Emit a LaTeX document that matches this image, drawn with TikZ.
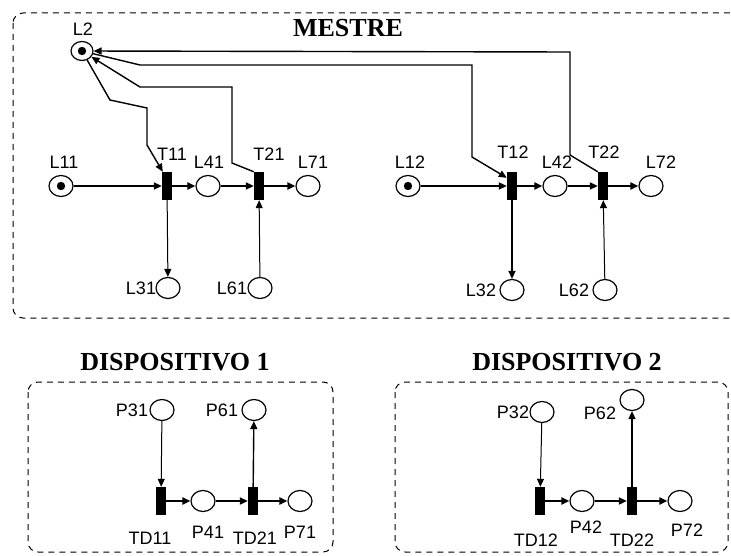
\documentclass[tikz,border=0pt]{standalone}
\usepackage{fontspec}
\setmainfont{Liberation Sans}
\newfontfamily\titlefont{Liberation Serif}
\usetikzlibrary{arrows.meta, shapes.geometric}

\tikzset{
  place/.style={ellipse, draw, line width=1.2pt, minimum width=24pt, minimum height=21pt, inner sep=0pt},
  marked/.style={place, path picture={\fill (path picture bounding box.center) circle (4.2pt);}},
  trans/.style={rectangle, fill=black, minimum width=10pt, minimum height=28pt, inner sep=0pt},
  lbl/.style={font=\fontsize{18}{20}\selectfont, inner sep=0pt},
  titulo/.style={font=\titlefont\bfseries\fontsize{26}{28}\selectfont, inner sep=0pt},
  caixa/.style={dash pattern=on 6pt off 5pt, line width=1pt, rounded corners=10pt},
  arco/.style={->, line width=2pt},
  fino/.style={->, line width=1pt},
  longo/.style={->, line width=1.4pt},
}

\begin{document}
\begin{tikzpicture}[x=1pt, y=-1pt, >={Triangle[length=8pt, width=7pt]}]
    \clip (0,0) rectangle (731,556);

    % --- Caixas tracejadas ---
    \draw[caixa] (13,13) rectangle (760,318);
    \draw[caixa] (28,382) rectangle (333,552);
    \draw[caixa] (395,382) rectangle (728,552);

    \node[titulo] (mestre) at (348,28) {MESTRE};
    \node[titulo] (disp1) at (175,362) {DISPOSITIVO 1};
    \node[titulo] (disp2) at (567,362) {DISPOSITIVO 2};

    % --- Mestre: lugares e transicoes ---
    \node[marked, minimum width=22pt, minimum height=19pt] (L2) at (82,51) {};
    \node[marked] (L11) at (61,186) {};
    \node[trans] (T11) at (167,186) {};
    \node[place] (L41) at (208,186) {};
    \node[trans] (T21) at (259,186) {};
    \node[place] (L71) at (308,186) {};
    \node[place] (L31) at (168,288) {};
    \node[place] (L61) at (260,288) {};

    \node[marked] (L12) at (408,186) {};
    \node[trans] (T12) at (512,186) {};
    \node[place] (L42) at (555,186) {};
    \node[trans] (T22) at (603,186) {};
    \node[place] (L72) at (651,186) {};
    \node[place] (L32) at (512,290) {};
    \node[place] (L62) at (605,290) {};

    % rotulos
    \node[lbl] (lL2) at (83,29) {L2};
    \node[lbl] (lL11) at (64,162) {L11};
    \node[lbl] (lT11) at (172,154) {T11};
    \node[lbl] (lL41) at (209,162) {L41};
    \node[lbl] (lT21) at (269,154) {T21};
    \node[lbl] (lL71) at (313,162) {L71};
    \node[lbl] (lL31) at (141,288) {L31};
    \node[lbl] (lL61) at (232,288) {L61};
    \node[lbl] (lL12) at (410,162) {L12};
    \node[lbl] (lT12) at (513,152) {T12};
    \node[lbl] (lL42) at (557,162) {L42};
    \node[lbl] (lT22) at (604,152) {T22};
    \node[lbl] (lL72) at (661,162) {L72};
    \node[lbl] (lL32) at (481,290) {L32};
    \node[lbl] (lL62) at (574,290) {L62};

    % --- Mestre: arcos ---
    \draw[arco] (L11) -- (T11);
    \draw[arco] (T11) -- (L41);
    \draw[arco] (L41) -- (T21);
    \draw[arco] (T21) -- (L71);
    \draw[fino] (T11) -- (L31);
    \draw[fino] (L61) -- (T21);

    \draw[arco] (L12) -- (T12);
    \draw[arco] (T12) -- (L42);
    \draw[arco] (L42) -- (T22);
    \draw[arco] (T22) -- (L72);
    \draw[longo] (T12) -- (L32);
    \draw[fino] (L62) -- (T22);

    % exclusao mutua via L2
    \draw[longo] (L2) -- (110,100) -- (147,108) -- (147,145) -- ([xshift=1pt]T11.north west);
    \draw[longo] (L2) -- (140,65) -- (472,65) -- (472,157) -- ([yshift=-6pt]T12.north west);
    \draw[longo] (T21.north west) -- (232,163) -- (232,87) -- (140,87) -- (L2);
    \draw[longo] (T22.north west) -- (570,155) -- (570,52) -- (L2);

    % --- Dispositivo 1 ---
    \node[place] (P31) at (162,410) {};
    \node[place] (P61) at (254,410) {};
    \node[trans] (TD11) at (161,501) {};
    \node[place] (P41) at (203,501) {};
    \node[trans] (TD21) at (253,501) {};
    \node[place] (P71) at (300,501) {};

    \node[lbl] (lP31) at (132,410) {P31};
    \node[lbl] (lP61) at (222,410) {P61};
    \node[lbl] (lTD11) at (150,538) {TD11};
    \node[lbl] (lP41) at (208,532) {P41};
    \node[lbl] (lTD21) at (255,538) {TD21};
    \node[lbl] (lP71) at (300,532) {P71};

    \draw[fino] (P31) -- (TD11);
    \draw[arco] (TD11) -- (P41);
    \draw[arco] (P41) -- (TD21);
    \draw[arco] (TD21) -- (P71);
    \draw[longo] (TD21) -- (P61);

    % --- Dispositivo 2 ---
    \node[place] (P32) at (542,412) {};
    \node[place] (P62) at (632,400) {};
    \node[trans] (TD12) at (540,501) {};
    \node[place] (P42) at (582,501) {};
    \node[trans] (TD22) at (632,501) {};
    \node[place] (P72) at (680,501) {};

    \node[lbl] (lP32) at (513,412) {P32};
    \node[lbl] (lP62) at (600,413) {P62};
    \node[lbl] (lTD12) at (536,540) {TD12};
    \node[lbl] (lP42) at (586,527) {P42};
    \node[lbl] (lTD22) at (632,540) {TD22};
    \node[lbl] (lP72) at (687,530) {P72};

    \draw[fino] (P32) -- (TD12);
    \draw[arco] (TD12) -- (P42);
    \draw[arco] (P42) -- (TD22);
    \draw[arco] (TD22) -- (P72);
    \draw[longo] (TD22) -- (P62);

\end{tikzpicture}
\end{document}
